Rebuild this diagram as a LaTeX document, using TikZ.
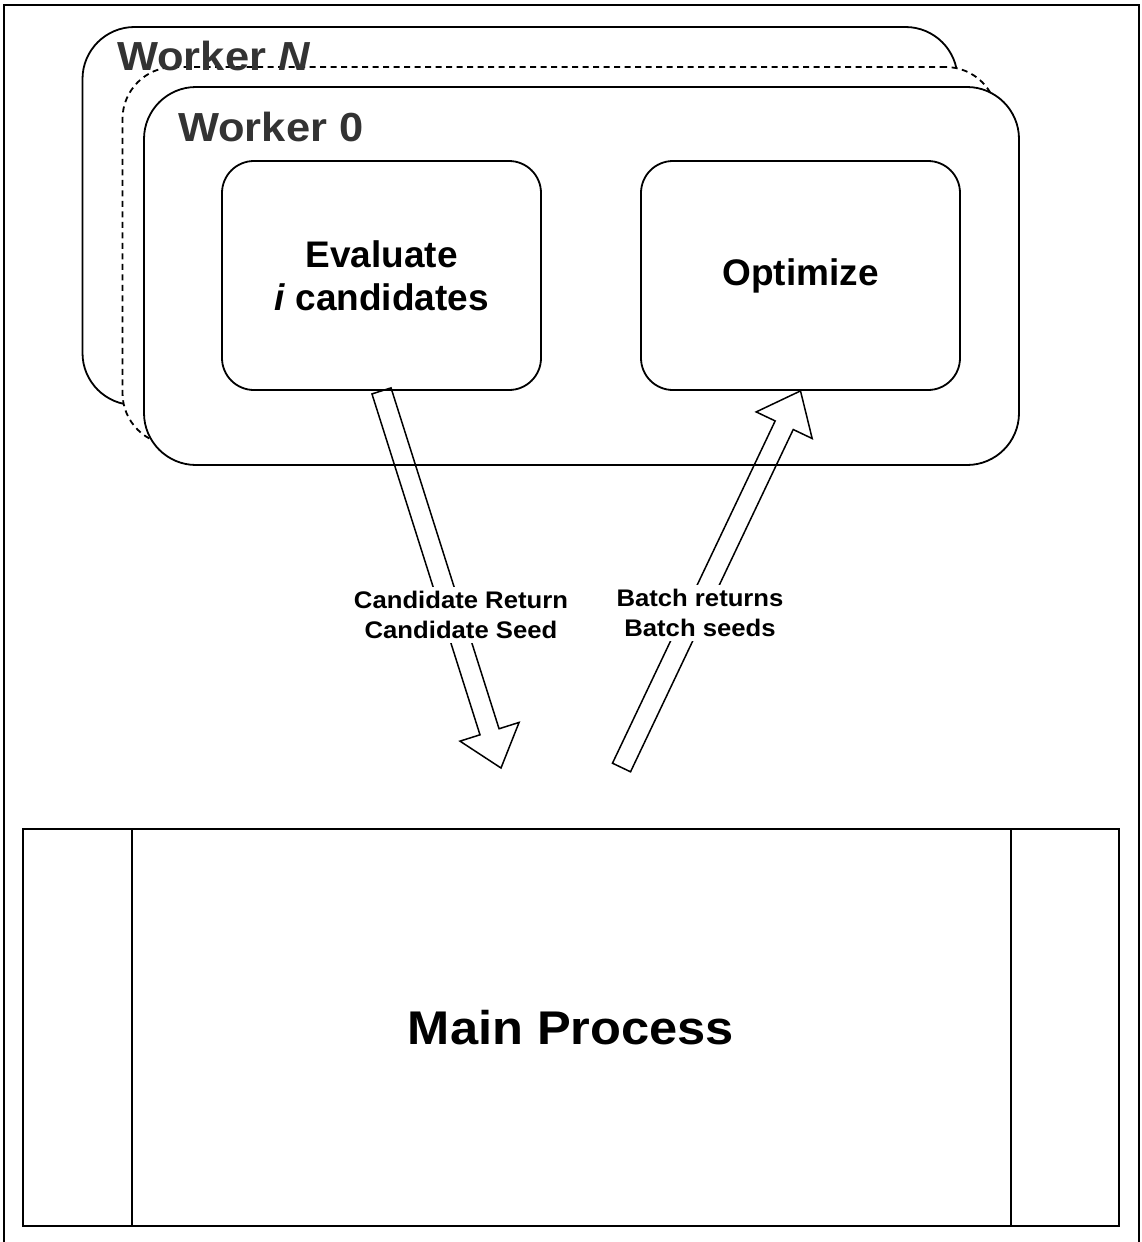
\documentclass[tikz,border=0pt]{standalone}
\usepackage{fontspec}
\setmainfont{Liberation Sans}
\newfontfamily\widefont[FakeStretch=1.07]{Liberation Sans}
\usetikzlibrary{calc}
\definecolor{labelgray}{HTML}{333333}
\begin{document}
\begin{tikzpicture}[x=1pt,y=-1pt,
  wbox/.style={draw, line width=1.8pt, rounded corners=52pt, fill=white, minimum width=875pt, minimum height=378pt, inner sep=0pt},
  ibox/.style={draw, line width=1.8pt, rounded corners=32pt, fill=white, minimum width=319pt, minimum height=229pt, align=center, font=\fontsize{37}{43}\selectfont\bfseries},
  wlabel/.style={anchor=base west, inner sep=0pt, text=labelgray, font=\widefont\fontsize{40.6}{48}\selectfont\bfseries},
  blockarrow/.style={draw, line width=1.5pt, line join=miter},
  arrowlabel/.style={fill=white, align=center, inner sep=4pt, font=\widefont\fontsize{24}{30}\selectfont\bfseries},
  mainstyle/.style={draw, line width=1.8pt, minimum width=1096pt, minimum height=397pt, inner sep=0pt, font=\widefont\fontsize{47.3}{56}\selectfont\bfseries},
]
\useasboundingbox (0,0) rectangle (1141,1242);
\draw[line width=2.5pt] (4,1242) -- (4,5) -- (1139,5) -- (1139,1242);

% worker stack
\node[wbox] (workerN) at (520,216) {};
\node[wbox, dash pattern=on 6pt off 4.5pt] (workerdots) at (560,256) {};
\node[wlabel] (labelN) at (117,70) {Worker \textit{N}};
\node[wbox] (worker0) at (581.5,276) {};
\node[wlabel] (label0) at (178,141) {Worker 0};

\node[ibox] (evalbox) at (381.5,275.5) {Evaluate\\\textit{i} candidates};
\node[ibox] (optbox) at (800.5,275.5) {Optimize};

% block arrows
\coordinate (downtip) at (501,768);
\coordinate (uptail) at (621.5,767.5);
\coordinate (downbase) at ($(downtip)!38pt!(evalbox.south)$);
\coordinate (upbase) at ($(optbox.south)!38pt!(uptail)$);
\draw[blockarrow] ($(evalbox.south)!10pt!90:(downtip)$) -- ($(downbase)!10pt!90:(downtip)$) -- ($(downbase)!31pt!90:(downtip)$) -- (downtip) -- ($(downbase)!31pt!-90:(downtip)$) -- ($(downbase)!10pt!-90:(downtip)$) -- ($(evalbox.south)!10pt!-90:(downtip)$) -- cycle;
\draw[blockarrow] ($(uptail)!10pt!90:(optbox.south)$) -- ($(upbase)!10pt!90:(optbox.south)$) -- ($(upbase)!31pt!90:(optbox.south)$) -- (optbox.south) -- ($(upbase)!31pt!-90:(optbox.south)$) -- ($(upbase)!10pt!-90:(optbox.south)$) -- ($(uptail)!10pt!-90:(optbox.south)$) -- cycle;

\node[arrowlabel] (lblcand) at (461,615) {Candidate Return\\Candidate Seed};
\node[arrowlabel] (lblbatch) at (700,613) {Batch returns\\Batch seeds};

% main process
\node[mainstyle] (mainbox) at (571,1027.5) {Main Process};
\draw[line width=1.8pt] ($(mainbox.north west)+(110,0)$) -- ($(mainbox.south west)+(110,0)$);
\draw[line width=1.8pt] ($(mainbox.north east)+(-109,0)$) -- ($(mainbox.south east)+(-109,0)$);
\end{tikzpicture}
\end{document}
